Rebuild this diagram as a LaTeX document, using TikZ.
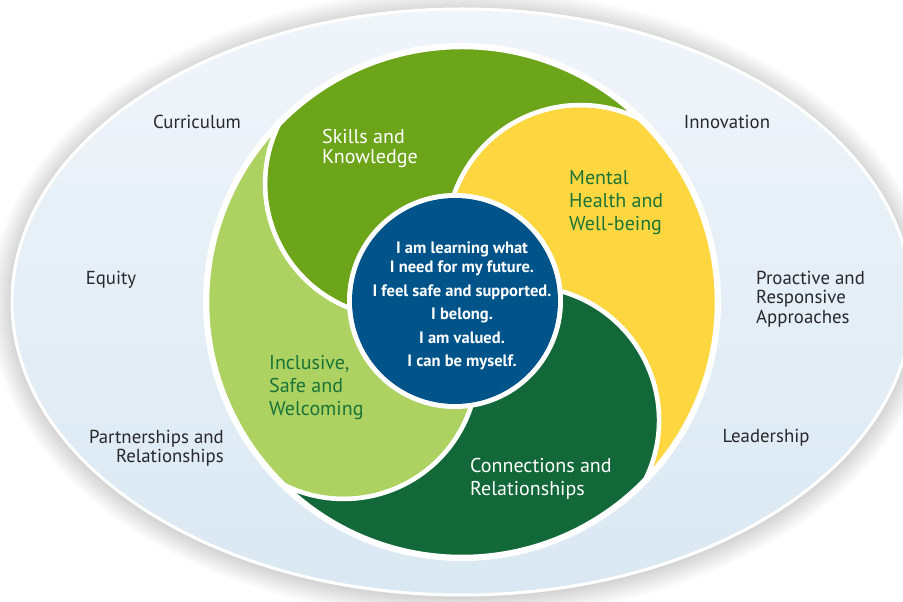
\documentclass[tikz,border=0pt]{standalone}
\usepackage{fontspec}
\setmainfont{PT Sans}
\definecolor{skyA}{RGB}{240,245,250}
\definecolor{skyB}{RGB}{218,232,243}
\definecolor{skillsgreen}{RGB}{109,165,26}
\definecolor{lightgreen}{RGB}{173,210,98}
\definecolor{sunyellow}{RGB}{254,215,64}
\definecolor{darkgreen}{RGB}{18,104,56}
\definecolor{coreblue}{RGB}{0,84,138}
\definecolor{labelgreen}{RGB}{26,115,55}
\definecolor{labelgrey}{RGB}{40,40,45}
\newcommand\swirlpetal[2]{%
  \filldraw[fill=#2, draw=white, line width=4.5, line join=round]
    (#1-72:255) arc[start angle=#1-72, end angle=#1+18, radius=255]
    arc[start angle=#1+36, end angle=#1+180, radius=134.06]
    arc[start angle=#1+90, end angle=#1-54, radius=134.06] -- cycle;}
\tikzset{
  outerlabel/.style={text=labelgrey, font=\fontsize{18.8}{19.5}\selectfont, inner sep=0pt},
  petallabel/.style={font=\fontsize{20}{23}\selectfont, inner sep=0pt, align=left, anchor=west},
}
\begin{document}
\begin{tikzpicture}[x=1pt,y=1pt]
\useasboundingbox (0,0) rectangle (903,602);
\fill[white] (0,0) rectangle (903,602);
% soft glow
\foreach \i in {1,...,14} {
  \fill[black, opacity=0.011] (462,298) ellipse [x radius=450+\i*1.6, y radius=293+\i*1.6];
}
% big ellipse
\shade[top color=skyA, bottom color=skyB, draw=white, line width=3]
  (462,300) ellipse [x radius=450, y radius=293];
% swirl
\begin{scope}[shift={(462,300)}]
  \fill[white] (0,0) circle[radius=259];
  \swirlpetal{28}{sunyellow}
  \swirlpetal{118}{skillsgreen}
  \swirlpetal{208}{lightgreen}
  \swirlpetal{298}{darkgreen}
\end{scope}
% core
\fill[white] (455,301) circle[radius=108];
\node[circle, fill=coreblue, minimum size=206, inner sep=0pt] (core) at (455,301) {};
\node[text=white, align=center, font=\bfseries\fontsize{16.5}{19}\selectfont, inner sep=0pt] (coretext) at (462,296)
  {I am learning what\\I need for my future.\\[4.5pt]I feel safe and supported.\\[4.5pt]I belong.\\[4.5pt]I am valued.\\[4.5pt]I can be myself.};
% petal labels
\node[petallabel, text=white, font=\fontsize{20}{19.5}\selectfont] (skills) at (322,453.5) {Skills and\\Knowledge};
\node[petallabel, text=labelgreen] (mental) at (569,399.5) {Mental\\Health and\\Well-being};
\node[petallabel, text=labelgreen] (inclusive) at (269,214) {Inclusive,\\Safe and\\Welcoming};
\node[petallabel, text=white, font=\fontsize{20}{22.5}\selectfont] (connections) at (470,123) {Connections and\\Relationships};
% outer labels
\node[outerlabel] (curriculum) at (197,480) {Curriculum};
\node[outerlabel] (innovation) at (727,480) {Innovation};
\node[outerlabel] (equity) at (111,322) {Equity};
\node[outerlabel, align=left, anchor=west] (proactive) at (756,303) {Proactive and\\Responsive\\Approaches};
\node[outerlabel] (leadership) at (766,164) {Leadership};
\node[outerlabel, align=right, anchor=east] (partnerships) at (224,154) {Partnerships and\\Relationships};
\end{tikzpicture}
\end{document}
